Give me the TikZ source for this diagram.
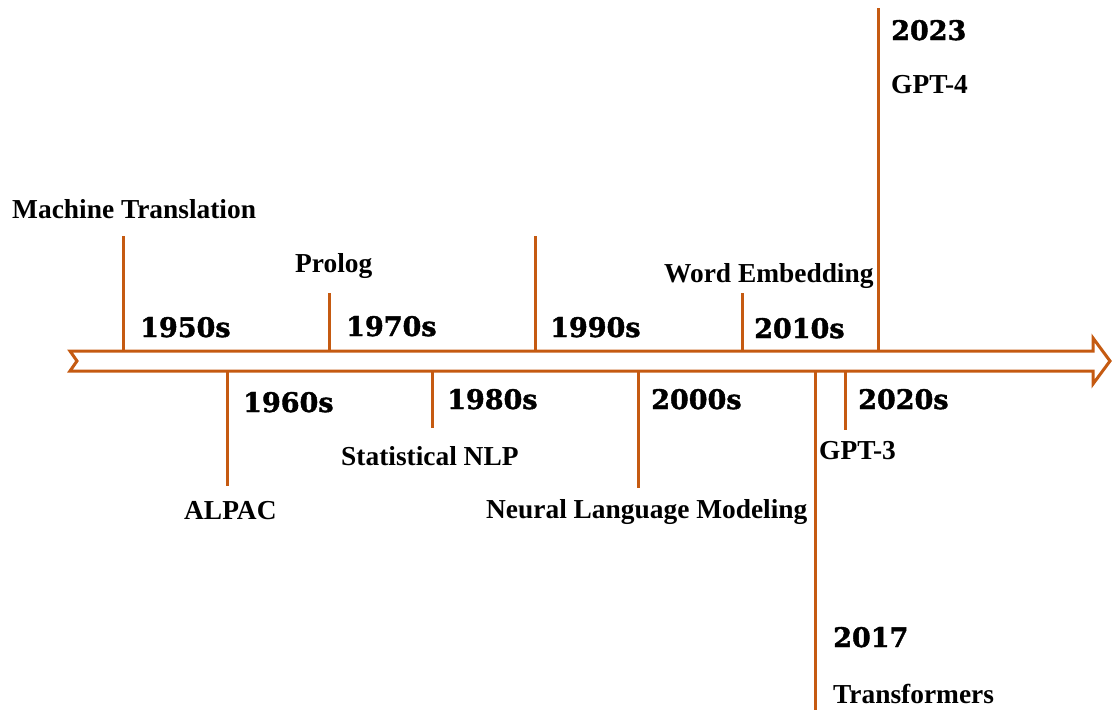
\documentclass[tikz,border=0pt]{standalone}
\usepackage{fontspec}
\setmainfont{Liberation Serif}
\newfontfamily\yearfont[FakeBold=1.5]{DejaVu Serif Bold}
\definecolor{rust}{HTML}{C55A11}
\begin{document}
\begin{tikzpicture}[x=1pt,y=-1pt,
  band/.style={draw=rust,line width=3pt,fill=white,line join=miter},
  tick/.style={draw=rust,line width=3pt},
  era/.style={anchor=base west,inner sep=0pt,font=\yearfont\fontsize{27}{30}\selectfont},
  event/.style={anchor=base west,inner sep=0pt,font=\bfseries\fontsize{27.4}{30}\selectfont}]
\useasboundingbox (0,0) rectangle (1112,710);
% timeline band with notched tail and arrow head
\draw[band] (70,351) -- (1093,351) -- (1093,338) -- (1110,361) -- (1093,384)
  -- (1093,371) -- (70,371) -- (77,361) -- cycle;
% tick roots on the band
\foreach \n/\x in {a/123,c/329,e/535,g/742,k/878}
  \coordinate (\n) at (\x,351);
\foreach \n/\x in {b/227,d/432,f/638,t/815,h/845}
  \coordinate (\n) at (\x,371);
% tick ends
\coordinate (a2) at (123,236);
\coordinate (c2) at (329,293);
\coordinate (e2) at (535,236);
\coordinate (g2) at (742,293);
\coordinate (k2) at (878,8);
\coordinate (b2) at (227,486);
\coordinate (d2) at (432,428);
\coordinate (f2) at (638,488);
\coordinate (t2) at (815,710);
\coordinate (h2) at (845,430);
\foreach \n in {a,c,e,g,k,b,d,f,t,h}
  \draw[tick] (\n) -- (\n2);
% decades
\node[era] (y50) at (140,337) {1950s};
\node[era] (y60) at (243,412) {1960s};
\node[era] (y70) at (346,336) {1970s};
\node[era] (y80) at (447,409) {1980s};
\node[era] (y90) at (550,337) {1990s};
\node[era] (y00) at (651,409) {2000s};
\node[era] (y10) at (754,338) {2010s};
\node[era] (y20) at (858,409) {2020s};
\node[era] (y23) at (891,40) {2023};
\node[era] (y17) at (833,647) {2017};
% milestones
\node[event] (mt) at (12,218) {Machine Translation};
\node[event] (pl) at (295,272) {Prolog};
\node[event] (we) at (664,282) {Word Embedding};
\node[event] (g4) at (891,93) {GPT-4};
\node[event] (al) at (184,519) {ALPAC};
\node[event] (sn) at (341,465) {Statistical NLP};
\node[event] (nl) at (486,518) {Neural Language Modeling};
\node[event] (g3) at (819,459) {GPT-3};
\node[event] (tr) at (833,703) {Transformers};
\end{tikzpicture}
\end{document}
